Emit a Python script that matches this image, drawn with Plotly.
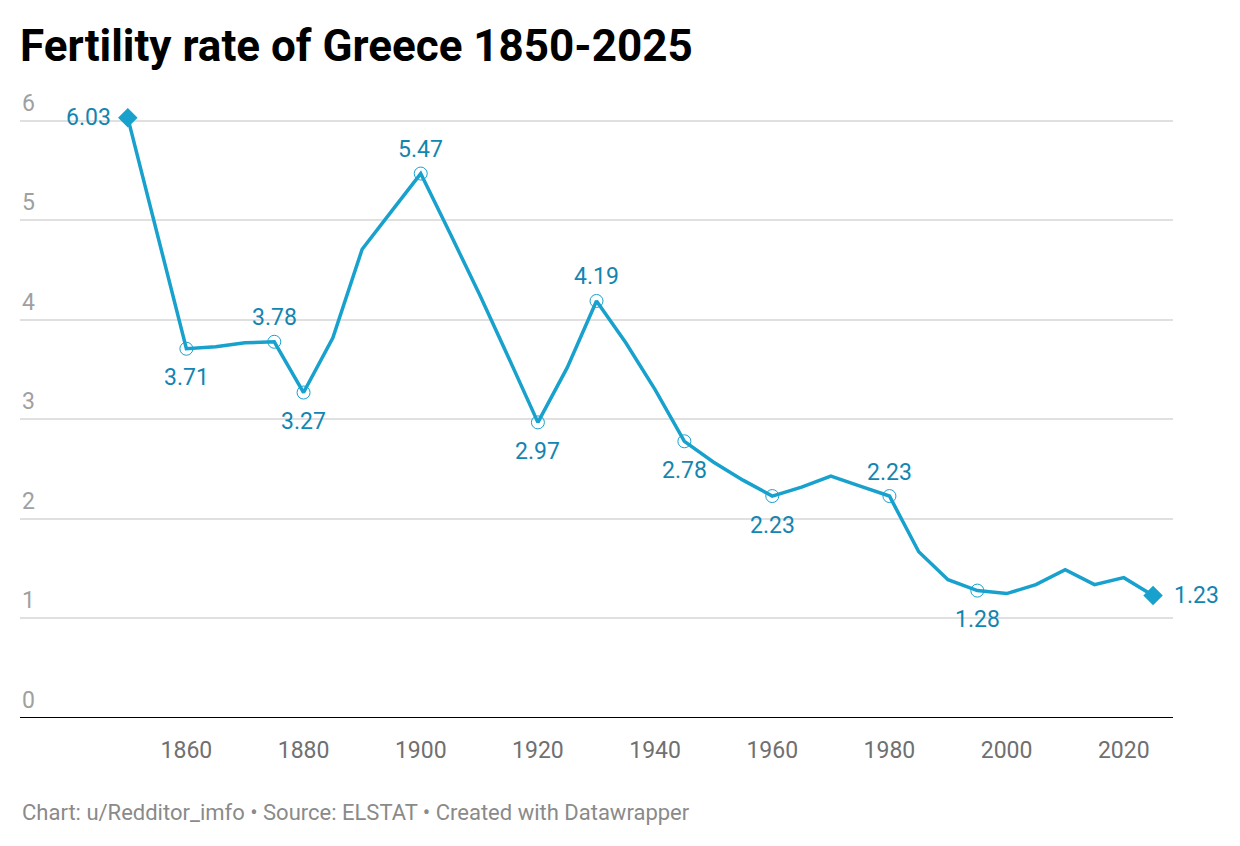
import plotly.graph_objects as go

years = [1850, 1855, 1860, 1865, 1870, 1875, 1880, 1885, 1890, 1895, 1900,
         1905, 1910, 1915, 1920, 1925, 1930, 1935, 1940, 1945, 1950, 1955,
         1960, 1965, 1970, 1975, 1980, 1985, 1990, 1995, 2000, 2005, 2010,
         2015, 2020, 2025]
rates = [6.03, 4.87, 3.71, 3.73, 3.77, 3.78, 3.27, 3.82, 4.71, 5.09, 5.47,
         4.87, 4.26, 3.62, 2.97, 3.52, 4.19, 3.77, 3.30, 2.78, 2.57, 2.39,
         2.23, 2.32, 2.43, 2.33, 2.23, 1.67, 1.39, 1.28, 1.25, 1.34, 1.49,
         1.34, 1.41, 1.23]

label_years = [1850, 1860, 1875, 1880, 1900, 1920, 1930, 1945, 1960, 1980, 1995, 2025]
label_pos = ["left", "below", "above", "below", "above", "below", "above",
             "below", "below", "above", "below", "right"]
y_ticks = [0, 1, 2, 3, 4, 5, 6]
x_ticks = [1860, 1880, 1900, 1920, 1940, 1960, 1980, 2000, 2020]

LINE = "#18a1cd"
LABEL = "#1285b0"
FONT = "Roboto"

fig = go.Figure()
fig.add_trace(go.Scatter(x=years, y=rates, mode="lines",
                         line=dict(color=LINE, width=3.5), hoverinfo="skip"))

circ_x = [y for y in label_years if y not in (1850, 2025)]
circ_y = [rates[years.index(y)] for y in circ_x]
fig.add_trace(go.Scatter(x=circ_x, y=circ_y, mode="markers",
                         marker=dict(symbol="circle-open", size=13, color=LINE,
                                     line=dict(color=LINE, width=1))))
end_x = [1850, 2025]
end_y = [rates[years.index(y)] for y in end_x]
fig.add_trace(go.Scatter(x=end_x, y=end_y, mode="markers",
                         marker=dict(symbol="diamond", size=15, color=LINE)))

for yr, pos in zip(label_years, label_pos):
    v = rates[years.index(yr)]
    kw = dict(x=yr, y=v, xref="x", yref="y", text=f"{v:.2f}", showarrow=False,
              font=dict(family=FONT, size=23, color=LABEL))
    if pos == "above":
        kw.update(yshift=24)
    elif pos == "below":
        kw.update(yshift=-29)
    elif pos == "left":
        kw.update(xanchor="right", xshift=-15)
    else:
        kw.update(xanchor="left", xshift=19)
    fig.add_annotation(**kw)

for t in y_ticks:
    fig.add_annotation(x=0, xref="paper", y=t, yref="y", text=str(t),
                       showarrow=False, xanchor="left", yanchor="bottom",
                       yshift=2, font=dict(family=FONT, size=23, color="#a0a0a0"))

fig.update_layout(
    width=1240, height=846,
    margin=dict(l=20, r=67, t=81, b=128),
    paper_bgcolor="white", plot_bgcolor="white",
    showlegend=False,
    title=dict(text="<b>Fertility rate of Greece 1850-2025</b>",
               x=20 / 1240, xanchor="left", y=1 - 46 / 846, yanchor="middle",
               font=dict(family=FONT, size=44, color="#000000")),
    xaxis=dict(range=[1831.6, 2028.4], tickvals=x_ticks,
               ticktext=[str(t) for t in x_ticks], showgrid=False,
               zeroline=False, showline=False, ticks="",
               ticklabelstandoff=16,
               tickfont=dict(family=FONT, size=23, color="#707070")),
    yaxis=dict(range=[0, 6.4], tickvals=y_ticks, showticklabels=False,
               showgrid=True, gridcolor="#e0e0e0", gridwidth=1.5,
               zeroline=False, showline=False, ticks=""),
)
fig.add_shape(type="line", xref="paper", yref="y", x0=0, x1=1, y0=0, y1=0,
              line=dict(color="#000000", width=2))
fig.add_annotation(x=0, xref="paper", y=(718 - 812) / 637, yref="paper",
                   text="Chart: u/Redditor_imfo \u2022 Source: ELSTAT \u2022 Created with Datawrapper",
                   showarrow=False, xanchor="left", yanchor="middle",
                   font=dict(family=FONT, size=22, color="#8a8a8a"))

fig.write_html("out.html")
